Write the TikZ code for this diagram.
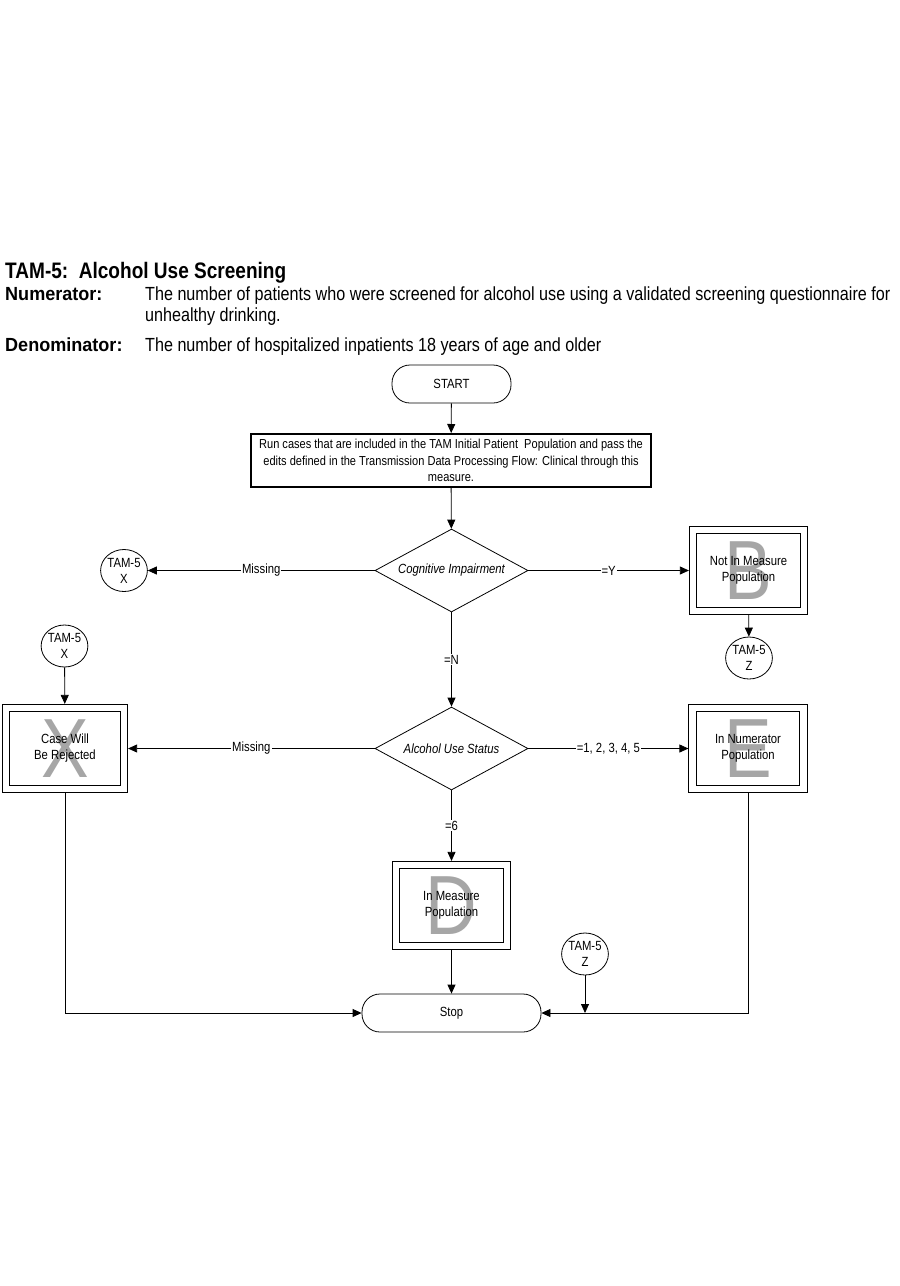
\documentclass[tikz,border=0pt]{standalone}
\usepackage{fontspec}
\setmainfont{Liberation Sans}[FakeStretch=0.85]
\newfontfamily\labfont{Liberation Sans}[FakeStretch=0.95]
\usetikzlibrary{shapes.geometric}
\usetikzlibrary{arrows.meta}

\begin{document}
\begin{tikzpicture}[x=1pt,y=-1pt]
\tikzstyle{every node}=[font=\fontsize{13.3}{16}\selectfont]
\tikzstyle{head}=[anchor=base west, inner sep=0pt, font=\fontsize{19}{22}\selectfont]
\tikzstyle{headlbl}=[head, font=\fontsize{19}{22}\selectfont\labfont\bfseries]
\tikzstyle{flow}=[draw=black, line width=0.8pt, -{Triangle[length=9pt,width=8pt]}]
\tikzstyle{term}=[draw, line width=0.8pt, rounded corners=18pt, minimum height=38pt]
\tikzstyle{proc}=[draw, line width=2pt, minimum width=400pt, minimum height=53pt, align=center, font=\fontsize{13}{16.5}\selectfont]
\tikzstyle{decide}=[diamond, aspect=1.84, draw, line width=0.8pt, minimum width=153pt, minimum height=83pt, inner sep=0pt, font=\fontsize{13.3}{16}\selectfont\itshape]
\tikzstyle{conn}=[ellipse, draw, line width=0.8pt, minimum width=44pt, minimum height=42pt, inner sep=0pt, align=center]
\tikzstyle{result}=[draw, double, double distance=6.4pt, line width=0.9pt, minimum width=111pt, minimum height=81pt, outer sep=4.1pt, align=center,
  path picture={\node[text=black!35, font=\fontsize{84}{84}\selectfont] at (path picture bounding box.center) {#1};}]
\tikzstyle{lbl}=[fill=white, inner sep=1pt]
\useasboundingbox (0,0) rectangle (900,1286);

% header
\node[head, font=\fontsize{22.4}{26}\selectfont\bfseries] (title) at (5,278) {TAM-5:\ \ Alcohol Use Screening};
\node[headlbl] (numlbl) at (5,300) {Numerator:};
\node[head] (numtxt) at (145,300) {The number of patients who were screened for alcohol use using a validated screening questionnaire for};
\node[head] (numtxt2) at (145,321) {unhealthy drinking.};
\node[headlbl] (denlbl) at (5,351) {Denominator:};
\node[head] (dentxt) at (145,351) {The number of hospitalized inpatients 18 years of age and older};

% flow chart
\node[term, minimum width=119pt] (start) at (451.5,384) {START};
\node[proc] (run) at (451,460.5) {Run cases that are included in the TAM Initial Patient\ \ Population and pass the\\edits defined in the Transmission Data Processing Flow: Clinical through this\\measure.};
\node[decide] (cog) at (451.5,570.5) {Cognitive Impairment};
\node[conn] (tamXa) at (124,570.5) {TAM-5\\X};
\node[result=B] (notB) at (748.5,570.5) {Not In Measure\\Population};
\node[conn] (tamZa) at (749,658) {TAM-5\\Z};
\node[decide] (alc) at (451.5,748.5) {Alcohol Use Status};
\node[conn] (tamXb) at (64.5,646) {TAM-5\\X};
\node[result=X, minimum width=118pt] (rejX) at (65,748.5) {Case Will\\Be Rejected};
\node[result=E] (numE) at (748,748.5) {In Numerator\\Population};
\node[result=D] (measD) at (451.5,905.5) {In Measure\\Population};
\node[conn] (tamZb) at (585,954) {TAM-5\\Z};
\node[term, minimum width=179pt] (stop) at (451.5,1013) {Stop};

\draw[flow] (start) -- (run);
\draw[flow] (run) -- (cog);
\draw[flow] (cog.west) -- node[lbl] {Missing} (tamXa.east);
\draw[flow] (cog.east) -- node[lbl] {=Y} (notB.west);
\draw[flow] (notB) -- (tamZa);
\draw[flow] (cog.south) -- node[lbl] {=N} (alc.north);
\draw[flow] (tamXb) -- (rejX);
\draw[flow] (alc.west) -- node[lbl] {Missing} (rejX.east);
\draw[flow] (alc.east) -- node[lbl] {=1, 2, 3, 4, 5} (numE.west);
\draw[flow] (alc.south) -- node[lbl] {=6} (measD.north);
\draw[flow] (measD) -- (stop);
\draw[flow] (rejX) |- (stop);
\draw[flow] (numE) |- (stop);
\draw[flow] (tamZb) -- (tamZb |- stop);
\end{tikzpicture}
\end{document}
